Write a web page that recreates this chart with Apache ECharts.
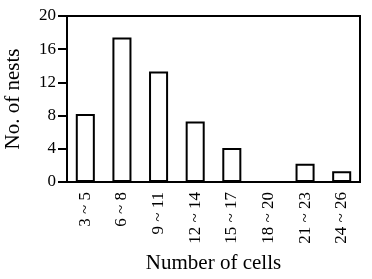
<!DOCTYPE html>
<html>
<head>
<meta charset="utf-8">
<script src="https://cdn.jsdelivr.net/npm/echarts@6/dist/echarts.min.js"></script>
<style>
  html, body { margin: 0; padding: 0; background: #fff; }
  #chart { width: 372px; height: 279px; }
</style>
</head>
<body>
<div id="chart"></div>
<script>
var categories = ['3 ~ 5', '6 ~ 8', '9 ~ 11', '12 ~ 14', '15 ~ 17', '18 ~ 20', '21 ~ 23', '24 ~ 26'];
var nests = [8.2, 17.4, 13.3, 7.3, 4.1, 0, 2.2, 1.3];

var serif = '"Liberation Serif", "DejaVu Serif", serif';

var chart = echarts.init(document.getElementById('chart'));

var option = {
    animation: false,
    grid: {
        left: 67,
        right: 12,
        top: 16,
        bottom: 97,
        outerBoundsMode: 'none',
        containLabel: false,
        show: true,
        borderColor: '#000',
        borderWidth: 2
    },
    xAxis: {
        type: 'category',
        data: categories,
        name: 'Number of cells',
        nameLocation: 'middle',
        nameGap: 71,
        nameTextStyle: { fontFamily: serif, fontSize: 21, color: '#000' },
        axisLine: { lineStyle: { color: '#000', width: 2 } },
        axisTick: { length: 8, lineStyle: { color: '#000', width: 2 } },
        axisLabel: { rotate: 90, margin: 10, fontFamily: serif, fontSize: 17, color: '#000' },
        splitLine: { show: false }
    },
    yAxis: {
        type: 'value',
        min: 0,
        max: 20,
        interval: 4,
        name: 'No. of nests',
        nameLocation: 'middle',
        nameGap: 43,
        nameTextStyle: { fontFamily: serif, fontSize: 21, color: '#000' },
        axisLine: { show: true, lineStyle: { color: '#000', width: 2 } },
        axisTick: { show: true, length: 9, lineStyle: { color: '#000', width: 2 } },
        axisLabel: { margin: 11, fontFamily: serif, fontSize: 17, color: '#000' },
        splitLine: { show: false }
    },
    series: [{
        type: 'bar',
        data: nests,
        barWidth: '52%',
        itemStyle: { color: '#fff', borderColor: '#000', borderWidth: 2 }
    }]
};

chart.setOption(option);
</script>
</body>
</html>
